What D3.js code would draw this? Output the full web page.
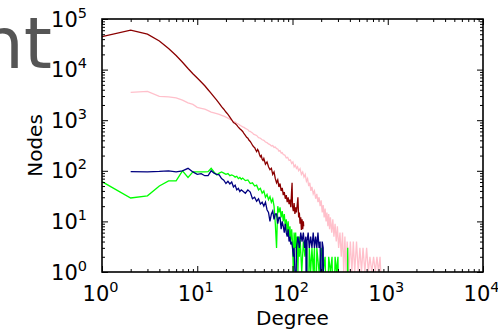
<!DOCTYPE html>
<html>
<head>
<meta charset="utf-8">
<script src="https://cdn.jsdelivr.net/npm/d3@7"></script>
<style>
body { margin: 0; background: #fff; }
svg { display: block; font-family: "DejaVu Sans", sans-serif; }
</style>
</head>
<body>
<svg></svg>
<script>
// degree distributions, [degree, nodes]
var darkRed = [[1,44700],[2,60000],[3,50000],[4,36700],[5,26000],[6,19000],[7,14000],[8,10500],[9,8300],[10,6800],[11,5700],[12,4800],[13,4000],[14,3400],[15,2900],[16,2500],[17,2150],[18,1850],[19,1650],[20,1450],[21,1300],[22,1150],[23,1020],[24,900],[25,860],[26,800],[27,730],[28,680],[29,640],[30,600],[31,540],[32,500],[33,460],[34,440],[35,400],[36,380],[37,350],[38,320],[39,300],[40,290],[41,260],[42,240],[43,265],[44,245],[45,210],[46,190],[47,200],[48,170],[49,160],[50,175],[52,135],[54,150],[56,120],[58,105],[60,112],[62,85],[64,95],[66,70],[68,58],[70,66],[72,48],[74,56],[76,40],[78,46],[80,33],[82,38],[84,28],[86,33],[88,24],[90,30],[92,22],[94,27],[96,19],[98,42],[99,58],[100,20],[102,16],[104,23],[106,14],[108,19],[110,15],[112,21],[114,30],[116,12],[118,15],[120,9],[122,12],[124,6.8],[126,11],[128,7],[130,10],[131,8]];

var pink = [[2,3550],[3,3700],[4,2950],[5,2900],[6,2750],[7,2500],[8,2200],[9,2050],[10,1800],[11,1720],[12,1650],[13,1550],[14,1450],[15,1400],[16,1350],[17,1300],[18,1250],[19,1200],[20,1150],[21,1100],[22,1050],[23,1000],[24,950],[25,920],[26,870],[27,840],[28,800],[29,770],[30,740],[31,720],[32,690],[33,670],[34,650],[35,610],[36,600],[37,580],[38,560],[39,530],[40,520],[42,500],[44,450],[46,440],[48,410],[50,400],[52,370],[54,360],[56,340],[58,330],[60,310],[62,315],[64,290],[66,295],[68,275],[70,270],[72,245],[74,250],[76,225],[78,230],[80,210],[83,205],[86,180],[89,185],[92,160],[95,165],[98,140],[101,150],[104,120],[107,130],[110,112],[113,120],[116,100],[120,110],[124,85],[128,95],[132,75],[136,85],[140,62],[144,70],[148,50],[152,58],[156,40],[160,48],[165,35],[170,40],[175,28],[180,35],[185,24],[190,30],[195,20],[200,26],[205,15],[210,21],[215,12],[220,18],[225,10],[230,15],[235,8],[240,14],[245,7],[250,12],[258,6],[265,11],[272,5],[280,9],[288,4],[296,8],[305,3],[315,6],[325,2],[335,6],[345,1],[355,5],[365,1],[375,4],[390,1],[405,4],[420,1],[435,4],[450,1],[470,4],[490,1],[510,3],[530,1],[550,3],[575,1],[600,3],[625,1],[650,2],[680,1],[710,2],[740,1],[770,2],[800,1],[830,2],[845,1]];

var navy = [[2,96],[3,95],[4,97],[5,100],[6,95],[7,100],[8,112],[9,95],[10,85],[11,88],[12,80],[13,80],[14,100],[15,90],[16,85],[17,83],[18,70],[19,65],[20,56],[21,62],[22,55],[23,60],[24,48],[25,52],[26,42],[27,45],[28,39],[29,42],[30,40],[32,36],[34,42],[36,38],[38,28],[40,30],[42,25],[44,28],[46,22],[48,24],[50,20],[52,24],[54,17],[56,15],[58,10],[60,14],[62,16],[64,11],[66,14],[68,14],[70,9],[72,12],[74,12],[76,7],[78,10],[80,8],[82,6],[84,9],[86,6],[88,5],[90,7],[92,4],[94,5],[96,3.5],[98,4],[100,3],[102,2],[104,3],[106,1],[108,0],[110,3],[114,5],[118,3],[122,6],[126,4],[130,6],[134,3],[138,5],[140,0],[142,4],[146,6],[150,3],[155,5],[160,3],[165,6],[170,3],[175,5],[180,3],[185,6],[190,3],[195,4],[200,0],[205,4],[210,3],[214,0]];

var lime = [[1,61],[2,29],[3,32],[4,50],[5,63],[6,63],[7,100],[8,74],[9,95],[10,95],[11,95],[12,95],[13,96],[14,112],[15,95],[16,83],[17,90],[18,95],[19,90],[20,85],[21,88],[22,80],[23,83],[24,80],[25,75],[26,78],[27,70],[28,74],[29,68],[30,72],[32,64],[34,66],[36,56],[38,58],[40,50],[42,52],[44,42],[46,45],[48,36],[50,40],[52,30],[54,34],[56,27],[58,31],[60,24],[62,28],[64,20],[66,9],[68,3],[70,20],[72,15],[74,19],[76,12],[78,16],[80,10],[82,14],[84,8],[86,11],[88,6],[90,10],[92,5],[94,8],[96,4],[98,7],[100,4],[102,1],[104,6],[106,3],[108,6],[110,2],[112,5],[114,1],[116,5],[118,2],[120,5],[125,1],[130,4],[135,2],[140,4],[145,0],[150,3],[155,1],[160,3],[165,1],[170,3],[175,0],[180,3],[190,1],[200,3],[210,1],[220,2],[230,0],[240,2],[250,1],[260,2],[270,0],[280,2],[290,1],[300,2],[310,0],[375,0],[380,3],[385,0]];

var series = [
	{data: pink, color: "#ffc0cb"},
	{data: lime, color: "#00ff00"},
	{data: navy, color: "#000080"},
	{data: darkRed, color: "#8b0000"}
];

var xMajor = [1, 10, 100, 1000, 10000];
var yMajor = [1, 10, 100, 1000, 10000, 100000];
var xExp = ["0", "1", "2", "3", "4"];
var yExp = ["0", "1", "2", "3", "4", "5"];

var width = 498;
var height = 331;
var plotLeft = 102, plotRight = 483, plotTop = 19, plotBottom = 272;

var svg = d3.select("svg")
	.attr("width", width)
	.attr("height", height);

var x = d3.scaleLog().domain([1, 10000]).range([plotLeft, plotRight]);
var y = d3.scaleLog().domain([1, 100000]).range([plotBottom, plotTop]);

// minor ticks: 2..9 in every decade
var xMinor = [];
xMajor.slice(0, -1).forEach(d => { for (var k = 2; k < 10; k++) xMinor.push(d * k); });
var yMinor = [];
yMajor.slice(0, -1).forEach(d => { for (var k = 2; k < 10; k++) yMinor.push(d * k); });

// partial title text peeking in from the left
svg.append("text")
	.attr("x", 52)
	.attr("y", 68)
	.style("text-anchor", "end")
	.style("font-size", "72px")
	.style("fill", "#555555")
	.text("nt");

svg.append("clipPath")
	.attr("id", "plot-clip")
	.append("rect")
	.attr("x", plotLeft)
	.attr("y", plotTop)
	.attr("width", plotRight - plotLeft)
	.attr("height", plotBottom - plotTop);

var line = d3.line()
	.x(d => x(d[0]))
	.y(d => y(Math.max(d[1], 0.05)));

svg.append("g")
	.attr("clip-path", "url(#plot-clip)")
	.selectAll("path")
	.data(series)
	.enter()
	.append("path")
	.attr("d", d => line(d.data))
	.attr("fill", "none")
	.attr("stroke", d => d.color)
	.attr("stroke-width", 1.3);

// ticks on all four sides, pointing inward
function ticks(axis, values, size, transform) {
	var g = svg.append("g")
		.attr("transform", transform)
		.call(axis.tickValues(values).tickSize(size).tickFormat(""));
	g.select(".domain").remove();
	g.selectAll("line").attr("stroke", "#000").attr("stroke-width", 1);
}

ticks(d3.axisBottom(x), xMajor, -6, `translate(0, ${plotBottom})`);
ticks(d3.axisBottom(x), xMinor, -3, `translate(0, ${plotBottom})`);
ticks(d3.axisTop(x), xMajor, -6, `translate(0, ${plotTop})`);
ticks(d3.axisTop(x), xMinor, -3, `translate(0, ${plotTop})`);
ticks(d3.axisLeft(y), yMajor, -6, `translate(${plotLeft}, 0)`);
ticks(d3.axisLeft(y), yMinor, -3, `translate(${plotLeft}, 0)`);
ticks(d3.axisRight(y), yMajor, -6, `translate(${plotRight}, 0)`);
ticks(d3.axisRight(y), yMinor, -3, `translate(${plotRight}, 0)`);

svg.append("rect")
	.attr("x", plotLeft)
	.attr("y", plotTop)
	.attr("width", plotRight - plotLeft)
	.attr("height", plotBottom - plotTop)
	.attr("fill", "none")
	.attr("stroke", "#000")
	.attr("stroke-width", 1.6);

// tick labels 10^n
var xLabels = svg.append("g").selectAll("text")
	.data(xMajor)
	.enter()
	.append("text")
	.attr("x", d => x(d) - 1.5)
	.attr("y", 301)
	.style("text-anchor", "middle")
	.style("font-size", "21px");
xLabels.append("tspan").text("10");
xLabels.append("tspan").attr("dy", -9).style("font-size", "14.5px").text((d, i) => xExp[i]);

var yLabels = svg.append("g").selectAll("text")
	.data(yMajor)
	.enter()
	.append("text")
	.attr("x", 87)
	.attr("y", d => y(d) + 7.5)
	.style("text-anchor", "end")
	.style("font-size", "21px");
yLabels.append("tspan").text("10");
yLabels.append("tspan").attr("dy", -9).style("font-size", "14.5px").text((d, i) => yExp[i]);

svg.append("text")
	.attr("x", (plotLeft + plotRight) / 2)
	.attr("y", 325)
	.style("text-anchor", "middle")
	.style("font-size", "20px")
	.text("Degree");

svg.append("text")
	.attr("transform", `translate(42, ${(plotTop + plotBottom) / 2}) rotate(-90)`)
	.style("text-anchor", "middle")
	.style("font-size", "20px")
	.text("Nodes");
</script>
</body>
</html>
